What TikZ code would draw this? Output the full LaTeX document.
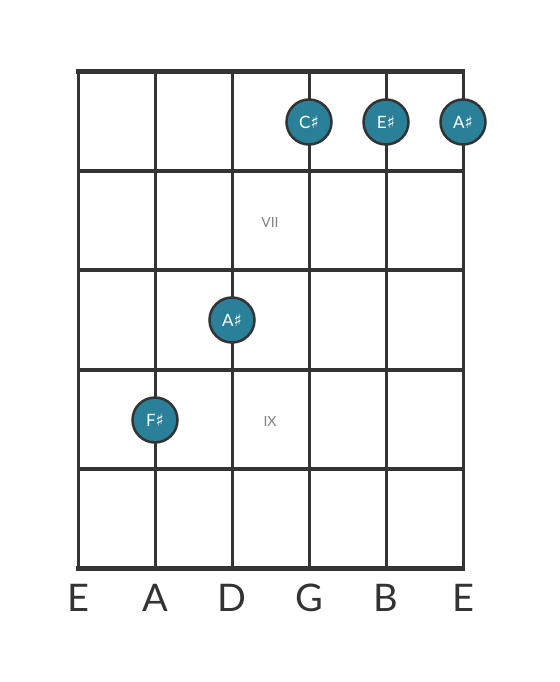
\documentclass[tikz,border=0pt]{standalone}
\usepackage{fontspec}
\setmainfont{Lato}
\newfontfamily\symfont{DejaVu Sans}
\newcommand{\shrp}{{\symfont\char"266F}}
\definecolor{fretgray}{HTML}{333333}
\definecolor{dotblue}{HTML}{2A7F99}
\tikzset{
	note/.style={circle,draw=fretgray,line width=2.5pt,fill=dotblue,minimum size=45pt,inner sep=0pt,text=white,font=\fontsize{17}{17}\selectfont},
	fretnum/.style={text=gray,font=\fontsize{14}{14}\selectfont},
	strname/.style={text=fretgray,font=\fontsize{38}{38}\selectfont}
}
\begin{document}
\begin{tikzpicture}[x=1pt,y=-1pt]
		\useasboundingbox (0,0) rectangle (559,682);
		% strings
		\foreach \sx in {78,155,232,309,386,463}
			\draw[fretgray,line width=3pt] (\sx,72) -- (\sx,568);
		% frets
		\foreach \fy in {171,270,370,469}
			\draw[fretgray,line width=4pt] (78,\fy) -- (463,\fy);
		\draw[fretgray,line width=5pt] (76,72) -- (465,72);
		\draw[fretgray,line width=5pt] (76,568) -- (465,568);
		% position markers
		\node [fretnum] (vii) at (270,222) {VII};
		\node [fretnum] (ix) at (270,421) {IX};
		% notes
		\node [note] (cs) at (309,122) {C\shrp};
		\node [note] (es) at (386,122) {E\shrp};
		\node [note] (as1) at (463,122) {A\shrp};
		\node [note] (as2) at (232,320) {A\shrp};
		\node [note] (fs) at (155,420) {F\shrp};
		% string names
		\node [strname] (s1) at (78,598) {E};
		\node [strname] (s2) at (155,598) {A};
		\node [strname] (s3) at (232,598) {D};
		\node [strname] (s4) at (309,598) {G};
		\node [strname] (s5) at (386,598) {B};
		\node [strname] (s6) at (463,598) {E};
	\end{tikzpicture}
\end{document}
